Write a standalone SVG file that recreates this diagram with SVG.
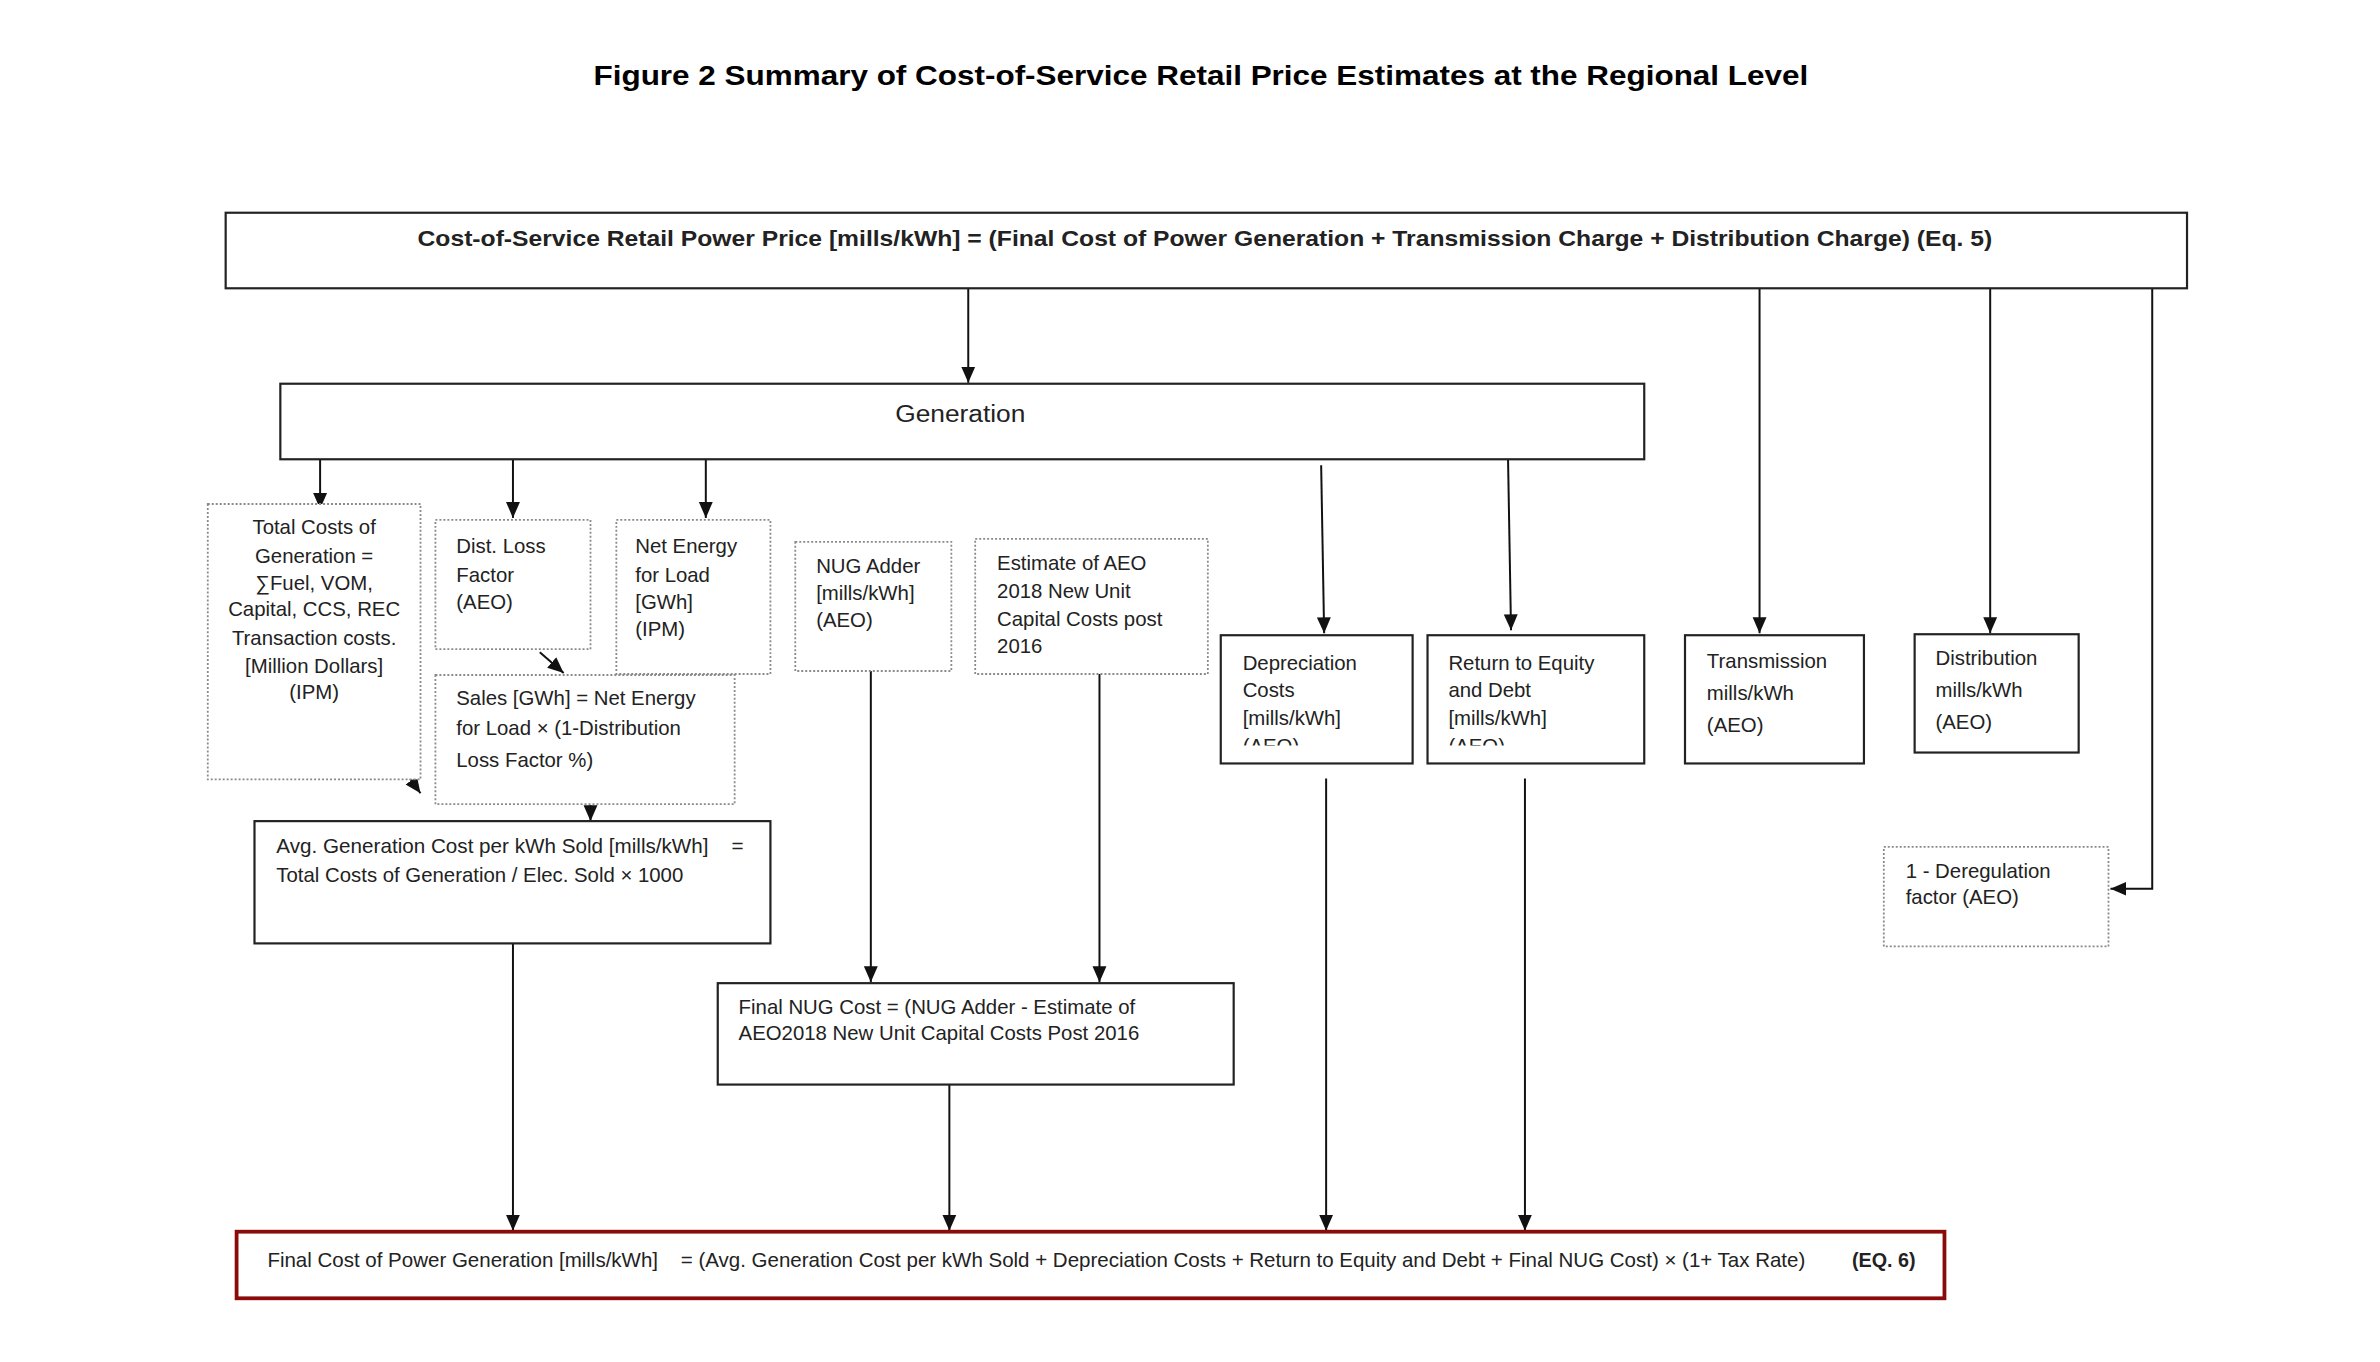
<svg xmlns="http://www.w3.org/2000/svg" width="2380" height="1362" viewBox="0 0 2380 1362">
<style>
.t{font-family:"Liberation Sans",Arial,sans-serif;font-size:20.5px;fill:#222}
.c{text-anchor:middle}
.solid{fill:#fff;stroke:#222;stroke-width:2.2}
.dot{fill:#fff;stroke:#8a8a8a;stroke-width:1.8;stroke-dasharray:2 2}
.ln{fill:none;stroke:#111;stroke-width:2}
</style>
<defs>
<marker id="ar" markerUnits="userSpaceOnUse" markerWidth="16" markerHeight="16" viewBox="0 0 16 16" refX="16" refY="8" orient="auto">
<path d="M0,1 L16,8 L0,15 Z" fill="#111"/>
</marker>
<clipPath id="clipD"><rect x="1228" y="639" width="193" height="111"/></clipPath>
<clipPath id="clipR"><rect x="1436" y="639" width="218" height="111"/></clipPath>
</defs>
<rect width="2380" height="1362" fill="#fff"/>
<g transform="scale(0.9941)">

<text x="1208" y="86" font-family="'Liberation Sans',Arial,sans-serif" font-weight="bold" font-size="28" text-anchor="middle" textLength="1222" lengthAdjust="spacingAndGlyphs" fill="#000">Figure 2 Summary of Cost-of-Service Retail Price Estimates at the Regional Level</text>

<g id="connectors">
<line class="ln" x1="974" y1="290" x2="974" y2="385" marker-end="url(#ar)"/>
<line class="ln" x1="1770" y1="290" x2="1770" y2="637" marker-end="url(#ar)"/>
<line class="ln" x1="2002" y1="290" x2="2002" y2="637" marker-end="url(#ar)"/>
<polyline class="ln" points="2165,290 2165,894 2123,894" marker-end="url(#ar)"/>
<line class="ln" x1="322" y1="462" x2="322" y2="512" marker-end="url(#ar)"/>
<line class="ln" x1="516" y1="462" x2="516" y2="521" marker-end="url(#ar)"/>
<line class="ln" x1="710" y1="462" x2="710" y2="521" marker-end="url(#ar)"/>
<line class="ln" x1="1329" y1="468" x2="1332" y2="637" marker-end="url(#ar)"/>
<line class="ln" x1="1517" y1="462" x2="1520" y2="634" marker-end="url(#ar)"/>
<line class="ln" x1="543" y1="656" x2="567" y2="677" marker-end="url(#ar)"/>
<line class="ln" x1="687" y1="653" x2="687" y2="698" marker-end="url(#ar)"/>
<line class="ln" x1="398" y1="763" x2="423" y2="798" marker-end="url(#ar)"/>
<line class="ln" x1="594" y1="810" x2="594" y2="826" marker-end="url(#ar)"/>
<line class="ln" x1="876" y1="675" x2="876" y2="988" marker-end="url(#ar)"/>
<line class="ln" x1="1106" y1="678" x2="1106" y2="988" marker-end="url(#ar)"/>
<line class="ln" x1="516" y1="949" x2="516" y2="1238" marker-end="url(#ar)"/>
<line class="ln" x1="955" y1="1091" x2="955" y2="1238" marker-end="url(#ar)"/>
<line class="ln" x1="1334" y1="783" x2="1334" y2="1238" marker-end="url(#ar)"/>
<line class="ln" x1="1534" y1="783" x2="1534" y2="1238" marker-end="url(#ar)"/>
</g>

<g id="top">
<rect class="solid" x="227" y="214" width="1973" height="76" stroke-width="2.6"/>
<text x="1212" y="247" font-family="'Liberation Sans',Arial,sans-serif" font-weight="bold" font-size="23" fill="#222" text-anchor="middle" textLength="1584" lengthAdjust="spacingAndGlyphs">Cost-of-Service Retail Power Price [mills/kWh] = (Final Cost of Power Generation + Transmission Charge + Distribution Charge) (Eq. 5)</text>
</g>

<g id="generation">
<rect class="solid" x="282" y="386" width="1372" height="76" stroke-width="2.6"/>
<text class="t c" x="966" y="425" style="font-size:24px" textLength="131" lengthAdjust="spacingAndGlyphs">Generation</text>
</g>

<g id="totalcosts">
<rect class="dot" x="209" y="507" width="214" height="277"/>
<text class="t c" x="316" y="537">Total Costs of</text>
<text class="t c" x="316" y="566">Generation =</text>
<text class="t c" x="316" y="593">∑Fuel, VOM,</text>
<text class="t c" x="316" y="620">Capital, CCS, REC</text>
<text class="t c" x="316" y="649">Transaction costs.</text>
<text class="t c" x="316" y="677">[Million Dollars]</text>
<text class="t c" x="316" y="703">(IPM)</text>
</g>

<g id="distloss">
<rect class="dot" x="438" y="523" width="156" height="130"/>
<text class="t" x="459" y="556">Dist. Loss</text>
<text class="t" x="459" y="585">Factor</text>
<text class="t" x="459" y="613">(AEO)</text>
</g>

<g id="netenergy">
<rect class="dot" x="620" y="523" width="155" height="155"/>
<text class="t" x="639" y="556">Net Energy</text>
<text class="t" x="639" y="585">for Load</text>
<text class="t" x="639" y="613">[GWh]</text>
<text class="t" x="639" y="640">(IPM)</text>
</g>

<g id="sales">
<rect class="dot" x="438" y="679" width="301" height="130"/>
<text class="t" x="459" y="709">Sales [GWh] = Net Energy</text>
<text class="t" x="459" y="739">for Load × (1-Distribution</text>
<text class="t" x="459" y="772">Loss Factor %)</text>
</g>

<g id="nugadder">
<rect class="dot" x="800" y="545" width="157" height="130"/>
<text class="t" x="821" y="576">NUG Adder</text>
<text class="t" x="821" y="604">[mills/kWh]</text>
<text class="t" x="821" y="631">(AEO)</text>
</g>

<g id="estimate">
<rect class="dot" x="981" y="542" width="234" height="136"/>
<text class="t" x="1003" y="573">Estimate of AEO</text>
<text class="t" x="1003" y="602">2018 New Unit</text>
<text class="t" x="1003" y="630">Capital Costs post</text>
<text class="t" x="1003" y="657">2016</text>
</g>

<g id="depreciation">
<rect class="solid" x="1228" y="639" width="193" height="129"/>
<g clip-path="url(#clipD)">
<text class="t" x="1250" y="674">Depreciation</text>
<text class="t" x="1250" y="701">Costs</text>
<text class="t" x="1250" y="729">[mills/kWh]</text>
<text class="t" x="1250" y="757">(AEO)</text>
</g>
</g>

<g id="returnequity">
<rect class="solid" x="1436" y="639" width="218" height="129"/>
<g clip-path="url(#clipR)">
<text class="t" x="1457" y="674">Return to Equity</text>
<text class="t" x="1457" y="701">and Debt</text>
<text class="t" x="1457" y="729">[mills/kWh]</text>
<text class="t" x="1457" y="757">(AEO)</text>
</g>
</g>

<g id="transmission">
<rect class="solid" x="1695" y="639" width="180" height="129"/>
<text class="t" x="1717" y="672">Transmission</text>
<text class="t" x="1717" y="704">mills/kWh</text>
<text class="t" x="1717" y="736">(AEO)</text>
</g>

<g id="distribution">
<rect class="solid" x="1926" y="638" width="165" height="119"/>
<text class="t" x="1947" y="669">Distribution</text>
<text class="t" x="1947" y="701">mills/kWh</text>
<text class="t" x="1947" y="733">(AEO)</text>
</g>

<g id="deregulation">
<rect class="dot" x="1895" y="852" width="226" height="100"/>
<text class="t" x="1917" y="883">1 - Deregulation</text>
<text class="t" x="1917" y="909">factor (AEO)</text>
</g>

<g id="avggen">
<rect class="solid" x="256" y="826" width="519" height="123"/>
<text class="t" x="278" y="858" xml:space="preserve" textLength="470" lengthAdjust="spacingAndGlyphs">Avg. Generation Cost per kWh Sold [mills/kWh]    =</text>
<text class="t" x="278" y="887">Total Costs of Generation / Elec. Sold × 1000</text>
</g>

<g id="finalnug">
<rect class="solid" x="722" y="989" width="519" height="102"/>
<text class="t" x="743" y="1020">Final NUG Cost = (NUG Adder - Estimate of</text>
<text class="t" x="743" y="1046">AEO2018 New Unit Capital Costs Post 2016</text>
</g>

<g id="finalcost">
<rect x="238" y="1239" width="1718" height="67" fill="#fff" stroke="#8b0a0a" stroke-width="3.8"/>
<text class="t" x="269" y="1275" xml:space="preserve" textLength="1547" lengthAdjust="spacingAndGlyphs">Final Cost of Power Generation [mills/kWh]    = (Avg. Generation Cost per kWh Sold + Depreciation Costs + Return to Equity and Debt + Final NUG Cost) × (1+ Tax Rate)</text>
<text class="t" x="1863" y="1275" font-weight="bold" textLength="64" lengthAdjust="spacingAndGlyphs">(EQ. 6)</text>
</g>
</g>
</svg>
